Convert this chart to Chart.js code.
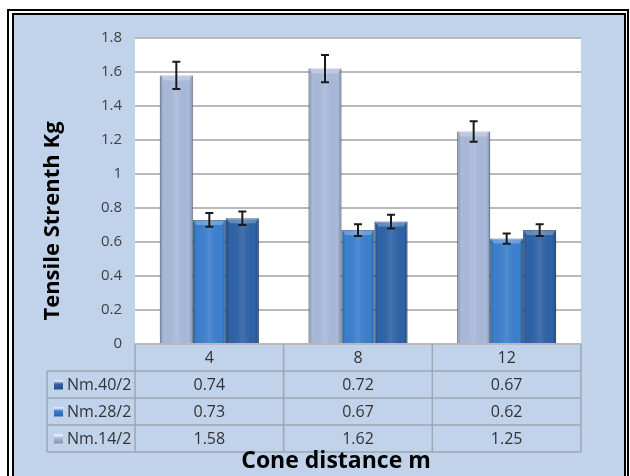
<!DOCTYPE html>
<html>
<head>
<meta charset="utf-8">
<script src="https://cdn.jsdelivr.net/npm/chart.js@4/dist/chart.umd.min.js"></script>
<style>
  body { margin: 0; background: #fff; }
  #wrap { width: 630px; height: 476px; }
</style>
</head>
<body>
<div id="wrap"><canvas id="chart" width="630" height="476"></canvas></div>
<script>
const categories = ['4', '8', '12'];
const seriesNames = ['Nm.14/2', 'Nm.28/2', 'Nm.40/2'];
const nm14 = [1.58, 1.62, 1.25];
const nm28 = [0.73, 0.67, 0.62];
const nm40 = [0.74, 0.72, 0.67];
const err14 = [0.08, 0.08, 0.06];
const err28 = [0.04, 0.035, 0.03];
const err40 = [0.04, 0.04, 0.035];
const yTicks = [0, 0.2, 0.4, 0.6, 0.8, 1, 1.2, 1.4, 1.6, 1.8];
const yTickLabels = ['0', '0.2', '0.4', '0.6', '0.8', '1', '1.2', '1.4', '1.6', '1.8'];
const tableOrder = [2, 1, 0]; // table rows: Nm.40/2, Nm.28/2, Nm.14/2

const FONT = '"Open Sans", "DejaVu Sans", sans-serif';
const barColors = ['#a9badb', '#3b80cf', '#2e63a8'];
const edgeColors = ['#7f8ba6', '#2a5f9e', '#1f4878'];
const errors = [err14, err28, err40];

const framePlugin = {
    id: 'frame',
    beforeDraw(chart) {
        const ctx = chart.ctx;
        const ca = chart.chartArea;
        ctx.save();
        ctx.fillStyle = '#ffffff';
        ctx.fillRect(0, 0, chart.width, chart.height);
        ctx.fillStyle = '#c0d3ea';
        ctx.fillRect(13, 14, 612, 470);
        ctx.strokeStyle = '#000';
        ctx.lineWidth = 2;
        ctx.strokeRect(8, 10, 620, 480);
        ctx.strokeRect(13, 14, 612, 476);
        ctx.fillStyle = '#ffffff';
        ctx.fillRect(ca.left, ca.top, ca.right - ca.left, ca.bottom - ca.top);
        ctx.restore();
    }
};

const barsPlugin = {
    id: 'barsExtra',
    afterDatasetsDraw(chart) {
        const ctx = chart.ctx;
        const y = chart.scales.y;
        ctx.save();
        chart.data.datasets.forEach((ds, di) => {
            const meta = chart.getDatasetMeta(di);
            meta.data.forEach((el, i) => {
                const p = el.getProps(['x', 'y', 'width', 'base'], true);
                const l = p.x - p.width / 2, r = p.x + p.width / 2;
                // side shading
                const g = ctx.createLinearGradient(l, 0, r, 0);
                g.addColorStop(0, 'rgba(0,0,0,0.22)');
                g.addColorStop(0.12, 'rgba(0,0,0,0.0)');
                g.addColorStop(0.5, 'rgba(255,255,255,0.10)');
                g.addColorStop(0.88, 'rgba(0,0,0,0.0)');
                g.addColorStop(1, 'rgba(0,0,0,0.25)');
                ctx.fillStyle = g;
                ctx.fillRect(l, p.y, p.width, p.base - p.y);
                // top bevel
                ctx.fillStyle = 'rgba(255,255,255,0.25)';
                ctx.beginPath();
                ctx.moveTo(l, p.y);
                ctx.lineTo(r, p.y);
                ctx.lineTo(r - 4, p.y + 5);
                ctx.lineTo(l + 4, p.y + 5);
                ctx.closePath();
                ctx.fill();
            });
        });
        // error bars
        ctx.strokeStyle = '#1a1a1a';
        ctx.lineWidth = 2;
        chart.data.datasets.forEach((ds, di) => {
            const meta = chart.getDatasetMeta(di);
            meta.data.forEach((el, i) => {
                const v = ds.data[i], e = errors[di][i];
                const x = el.getProps(['x'], true).x;
                const y1 = y.getPixelForValue(v + e), y2 = y.getPixelForValue(v - e);
                ctx.beginPath();
                ctx.moveTo(x, y1); ctx.lineTo(x, y2);
                ctx.moveTo(x - 4, y1); ctx.lineTo(x + 4, y1);
                ctx.moveTo(x - 4, y2); ctx.lineTo(x + 4, y2);
                ctx.stroke();
            });
        });
        ctx.restore();
    }
};

const tablePlugin = {
    id: 'dataTable',
    afterDraw(chart) {
        const ctx = chart.ctx;
        const ca = chart.chartArea;
        const xs = chart.scales.x;
        const rowH = 27;
        const top = ca.bottom;
        const legendLeft = 47;
        const n = categories.length;
        const bounds = [ca.left];
        for (let i = 0; i < n - 1; i++) {
            bounds.push((xs.getPixelForValue(i) + xs.getPixelForValue(i + 1)) / 2);
        }
        bounds.push(ca.right);
        ctx.save();
        ctx.strokeStyle = '#9ea6b2';
        ctx.lineWidth = 1.5;
        ctx.beginPath();
        bounds.forEach(bx => { ctx.moveTo(bx, top); ctx.lineTo(bx, top + rowH * 4); });
        ctx.moveTo(legendLeft, top + rowH); ctx.lineTo(legendLeft, top + rowH * 4);
        for (let k = 1; k <= 4; k++) {
            ctx.moveTo(legendLeft, top + rowH * k);
            ctx.lineTo(ca.right, top + rowH * k);
        }
        ctx.stroke();

        ctx.fillStyle = '#333';
        ctx.font = '16px ' + FONT;
        ctx.textAlign = 'center';
        ctx.textBaseline = 'middle';
        categories.forEach((c, i) => {
            ctx.fillText(c, xs.getPixelForValue(i), top + rowH / 2 + 1);
        });
        tableOrder.forEach((di, r) => {
            const cy = top + rowH * (r + 1) + rowH / 2 + 1;
            const ds = chart.data.datasets[di];
            ds.data.forEach((v, i) => {
                ctx.textAlign = 'center';
                ctx.fillStyle = '#333';
                ctx.fillText(v.toFixed(2), xs.getPixelForValue(i), cy);
            });
            // legend key
            const g = ctx.createLinearGradient(0, cy - 5, 0, cy + 5);
            g.addColorStop(0, '#ffffff');
            g.addColorStop(0.35, barColors[di]);
            g.addColorStop(1, edgeColors[di]);
            ctx.fillStyle = g;
            ctx.fillRect(54, cy - 5, 9, 9);
            ctx.textAlign = 'left';
            ctx.fillStyle = '#333';
            ctx.fillText(seriesNames[di], 67, cy);
        });

        ctx.fillStyle = '#000';
        ctx.font = 'bold 23px ' + FONT;
        ctx.textAlign = 'center';
        ctx.fillText('Cone distance m', 336, 461);

        // y axis title
        ctx.translate(53, 221);
        ctx.rotate(-Math.PI / 2);
        ctx.font = 'bold 22px ' + FONT;
        ctx.fillText('Tensile Strenth Kg', 0, 0);
        ctx.restore();
    }
};

const datasets = [nm14, nm28, nm40].map((d, i) => ({
    label: seriesNames[i],
    data: d,
    backgroundColor: barColors[i],
    borderColor: edgeColors[i],
    borderWidth: 1,
    categoryPercentage: 0.666,
    barPercentage: 1.0
}));

new Chart(document.getElementById('chart'), {
    type: 'bar',
    data: { labels: categories, datasets: datasets },
    options: {
        responsive: false,
        animation: false,
        devicePixelRatio: 1,
        layout: { padding: { left: 38, right: 49, top: 38, bottom: 132 } },
        plugins: { legend: { display: false }, tooltip: { enabled: false } },
        scales: {
            x: { display: false },
            y: {
                min: 0,
                max: 1.8,
                afterBuildTicks(scale) { scale.ticks = yTicks.map(v => ({ value: v })); },
                afterFit(scale) { scale.width = 135 - 38; },
                ticks: {
                    padding: 13,
                    color: '#404040',
                    font: { family: FONT, size: 15 },
                    callback: (v, i) => yTickLabels[i]
                },
                grid: { color: '#b9b9b9', lineWidth: 2, drawTicks: false },
                border: { display: false }
            }
        }
    },
    plugins: [framePlugin, barsPlugin, tablePlugin]
});
</script>
</body>
</html>
